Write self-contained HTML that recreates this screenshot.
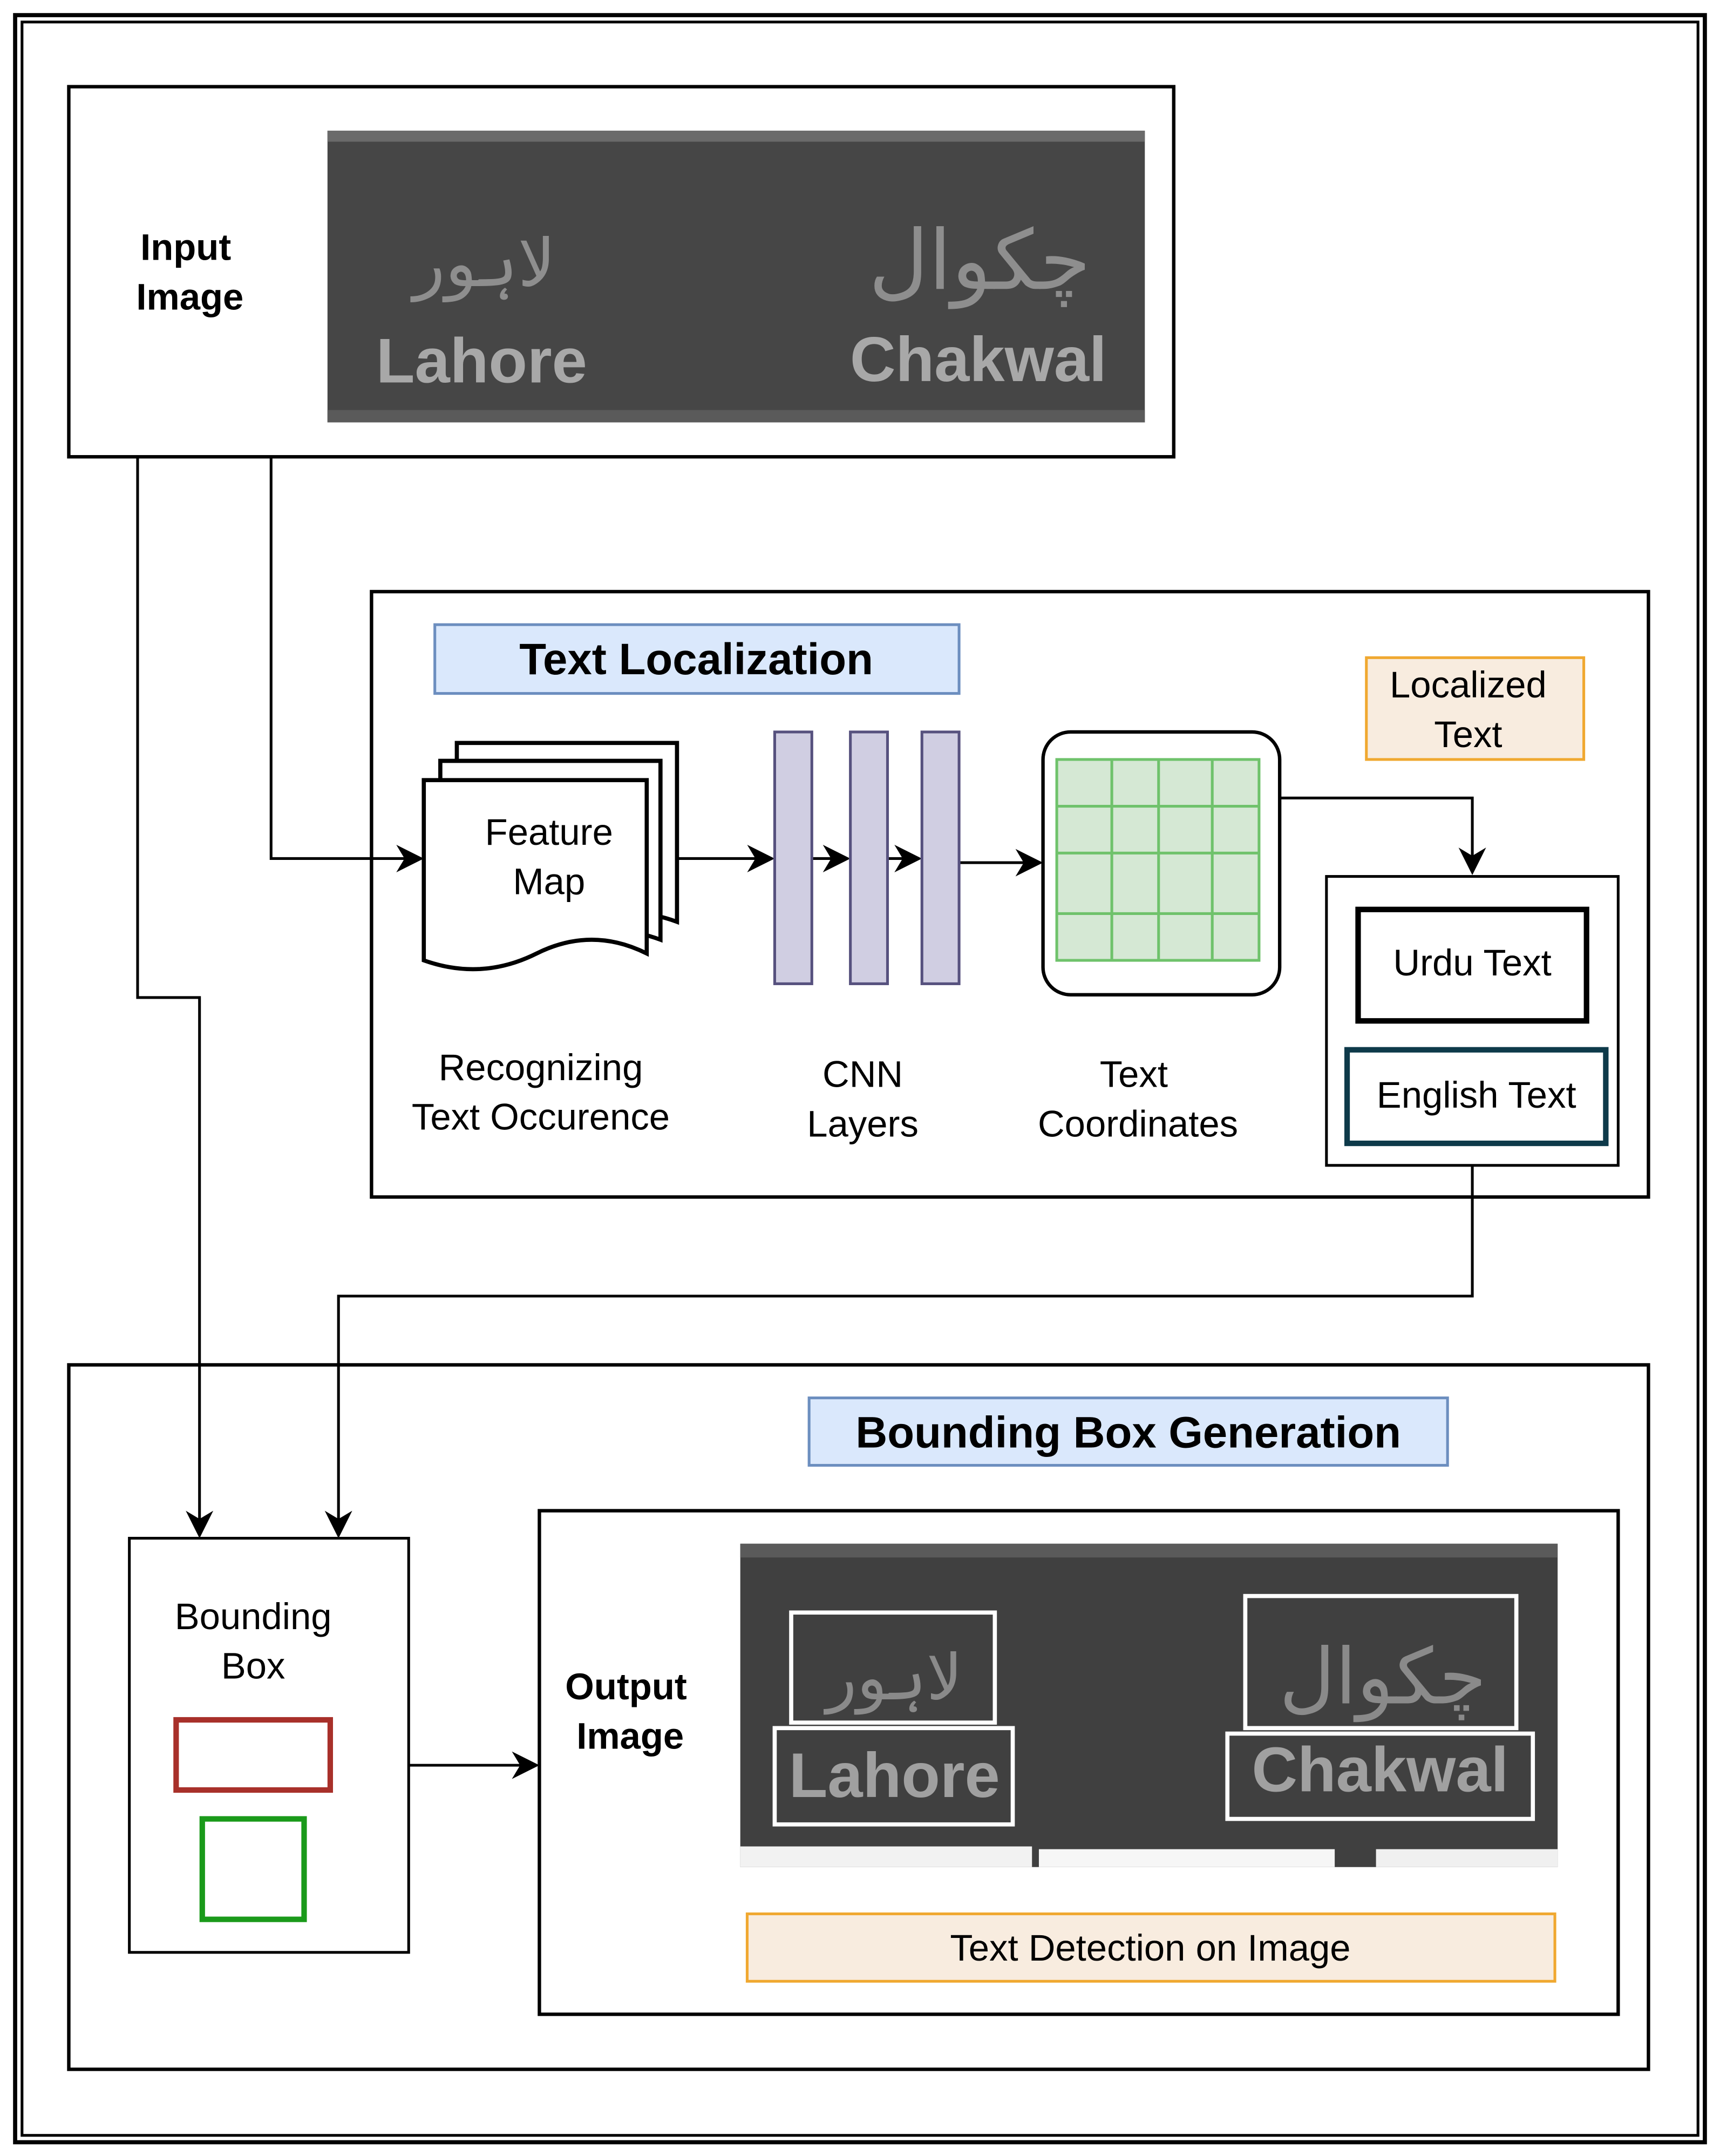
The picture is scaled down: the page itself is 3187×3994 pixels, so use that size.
<!DOCTYPE html>
<html><head><meta charset="utf-8"><style>
html,body{margin:0;padding:0;background:#fff;}
svg{display:block;}
text{font-family:"Liberation Sans","DejaVu Sans",sans-serif;}
</style></head><body>
<svg width="3187" height="3994" viewBox="0 0 1250 1567" preserveAspectRatio="none" xmlns="http://www.w3.org/2000/svg">
<defs>
<marker id="a" viewBox="0 0 10 10" refX="9" refY="5" markerWidth="22" markerHeight="20" orient="auto" markerUnits="userSpaceOnUse"><path d="M0,0 L10,5 L0,10 L3,5 z" fill="#000"/></marker>
</defs>
<rect width="1250" height="1567" fill="#fff"/>
<rect x="11" y="11" width="1228" height="1546" fill="none" stroke="#000" stroke-width="3"/>
<rect x="16" y="16" width="1218" height="1536" fill="none" stroke="#000" stroke-width="2"/>

<!-- Input -->
<rect x="50" y="63" width="803" height="269" fill="#fff" stroke="#000" stroke-width="2.5"/>
<text x="135" y="189" font-size="27" font-weight="bold" text-anchor="middle">Input</text>
<text x="138" y="225" font-size="27" font-weight="bold" text-anchor="middle">Image</text>
<rect x="238" y="95" width="594" height="212" fill="#464646"/>
<rect x="238" y="95" width="594" height="8" fill="#6a6a6a"/>
<rect x="238" y="298" width="594" height="9" fill="#5a5a5a"/>
<text x="352" y="208" font-size="48" fill="#8e8e8e" text-anchor="middle" font-family="'DejaVu Sans',sans-serif">لاہور</text>
<text x="712" y="210" font-size="60" fill="#8e8e8e" text-anchor="middle" font-family="'DejaVu Sans',sans-serif">چکوال</text>
<text x="350" y="278" font-size="46" font-weight="bold" fill="#a8a8a8" text-anchor="middle">Lahore</text>
<text x="711" y="277" font-size="46" font-weight="bold" fill="#a8a8a8" text-anchor="middle">Chakwal</text>

<!-- connectors -->
<g fill="none" stroke="#000" stroke-width="2">
<path d="M100,332 V725 H145 V1116" marker-end="url(#a)"/>
<path d="M197,332 V624 H306" marker-end="url(#a)"/>
<path d="M1070,847 V942 H246 V1116" marker-end="url(#a)"/>
<path d="M930,580 H1070 V634" marker-end="url(#a)"/>
<path d="M492,624 H561" marker-end="url(#a)"/>
<path d="M590,624 H616" marker-end="url(#a)"/>
<path d="M645,624 H668" marker-end="url(#a)"/>
<path d="M697,627 H756" marker-end="url(#a)"/>
<path d="M297,1283 H390" marker-end="url(#a)"/>
</g>

<!-- Text Localization -->
<rect x="270" y="430" width="928" height="440" fill="none" stroke="#000" stroke-width="2.5"/>
<rect x="316" y="454" width="381" height="50" fill="#dae8fc" stroke="#6c8ebf" stroke-width="2"/>
<text x="506" y="490" font-size="32" font-weight="bold" text-anchor="middle">Text Localization</text>

<g fill="#fff" stroke="#000" stroke-width="3">
<path d="M332,540 H492 V670 Q452,655 412,675 Q372,695 332,680 Z"/>
<path d="M320,553 H480 V683 Q440,668 400,688 Q360,708 320,693 Z"/>
<path d="M308,567 H470 V693 Q430,673 390,693 Q350,713 308,698 Z"/>
</g>
<text x="399" y="614" font-size="27" text-anchor="middle">Feature</text>
<text x="399" y="650" font-size="27" text-anchor="middle">Map</text>

<g fill="#d0cee2" stroke="#56517e" stroke-width="2">
<rect x="563" y="532" width="27" height="183"/>
<rect x="618" y="532" width="27" height="183"/>
<rect x="670" y="532" width="27" height="183"/>
</g>

<rect x="758" y="532" width="172" height="191" rx="20" fill="#fff" stroke="#000" stroke-width="2.5"/>
<rect x="768" y="552" width="147" height="146" fill="#d5e8d4" stroke="#6fc26b" stroke-width="2"/>
<g stroke="#6fc26b" stroke-width="2">
<line x1="808" y1="552" x2="808" y2="698"/><line x1="842" y1="552" x2="842" y2="698"/><line x1="881" y1="552" x2="881" y2="698"/>
<line x1="768" y1="586" x2="915" y2="586"/><line x1="768" y1="620" x2="915" y2="620"/><line x1="768" y1="664" x2="915" y2="664"/>
</g>

<rect x="993" y="478" width="158" height="74" fill="#f8ecdf" stroke="#f0a830" stroke-width="2"/>
<text x="1067" y="507" font-size="27" text-anchor="middle">Localized</text>
<text x="1067" y="543" font-size="27" text-anchor="middle">Text</text>

<rect x="964" y="637" width="212" height="210" fill="#fff" stroke="#000" stroke-width="2"/>
<rect x="987" y="661" width="166" height="81" fill="#fff" stroke="#000" stroke-width="4"/>
<text x="1070" y="709" font-size="27" text-anchor="middle">Urdu Text</text>
<rect x="979" y="763" width="188" height="68" fill="#fff" stroke="#0e3a4a" stroke-width="4"/>
<text x="1073" y="805" font-size="27" text-anchor="middle">English Text</text>

<g font-size="27" text-anchor="middle">
<text x="393" y="785">Recognizing</text>
<text x="393" y="821">Text Occurence</text>
<text x="627" y="790">CNN</text>
<text x="627" y="826">Layers</text>
<text x="824" y="790">Text</text>
<text x="827" y="826">Coordinates</text>
</g>

<!-- Bounding Box Generation -->
<rect x="50" y="992" width="1148" height="512" fill="none" stroke="#000" stroke-width="2.5"/>
<rect x="588" y="1016" width="464" height="49" fill="#dae8fc" stroke="#6c8ebf" stroke-width="2"/>
<text x="820" y="1052" font-size="32" font-weight="bold" text-anchor="middle">Bounding Box Generation</text>

<rect x="94" y="1118" width="203" height="301" fill="#fff" stroke="#000" stroke-width="2"/>
<text x="184" y="1184" font-size="27" text-anchor="middle">Bounding</text>
<text x="184" y="1220" font-size="27" text-anchor="middle">Box</text>
<rect x="128" y="1250" width="112" height="51" fill="none" stroke="#a8302a" stroke-width="4"/>
<rect x="147" y="1322" width="74" height="73" fill="none" stroke="#1a9a1a" stroke-width="4"/>

<rect x="392" y="1098" width="784" height="366" fill="#fff" stroke="#000" stroke-width="2.5"/>
<text x="455" y="1235" font-size="27" font-weight="bold" text-anchor="middle">Output</text>
<text x="458" y="1271" font-size="27" font-weight="bold" text-anchor="middle">Image</text>

<rect x="538" y="1122" width="594" height="235" fill="#404040"/>
<rect x="538" y="1122" width="594" height="10" fill="#5a5a5a"/>
<rect x="538" y="1342" width="212" height="15" fill="#f2f2f2"/>
<rect x="755" y="1344" width="215" height="13" fill="#f6f6f6"/>
<rect x="1000" y="1344" width="132" height="13" fill="#f0f0f0"/>
<g fill="none" stroke="#fff" stroke-width="3">
<rect x="575" y="1172" width="148" height="80"/>
<rect x="563" y="1256" width="173" height="70"/>
<rect x="905" y="1160" width="197" height="96"/>
<rect x="892" y="1260" width="222" height="62"/>
</g>
<text x="650" y="1235" font-size="46" fill="#8a8a8a" text-anchor="middle" font-family="'DejaVu Sans',sans-serif">لاہور</text>
<text x="1005" y="1238" font-size="56" fill="#8a8a8a" text-anchor="middle" font-family="'DejaVu Sans',sans-serif">چکوال</text>
<text x="650" y="1306" font-size="46" font-weight="bold" fill="#a0a0a0" text-anchor="middle">Lahore</text>
<text x="1003" y="1302" font-size="46" font-weight="bold" fill="#a0a0a0" text-anchor="middle">Chakwal</text>

<rect x="543" y="1391" width="587" height="49" fill="#f8ecdf" stroke="#f0a830" stroke-width="2"/>
<text x="836" y="1425" font-size="27" text-anchor="middle">Text Detection on Image</text>
</svg>
</body></html>
